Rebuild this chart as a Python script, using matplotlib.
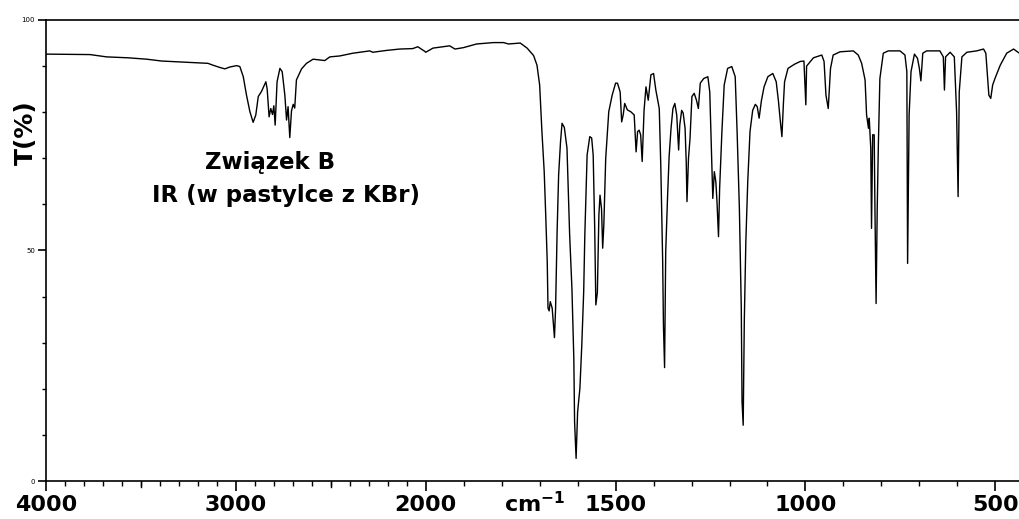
import matplotlib
matplotlib.use("Agg")
import matplotlib.pyplot as plt
import matplotlib.ticker as mticker
import matplotlib.transforms as mtransforms
import numpy as np

# IR spectrum (wavenumber in cm-1, transmittance in %)
wavenumber = [
    4000, 3768, 3681, 3568, 3470, 3391, 3242, 3147, 3121, 3084, 3058, 3032,
    2996, 2979, 2961, 2944, 2926, 2909, 2895, 2882, 2865, 2842, 2835, 2825,
    2816, 2807, 2800, 2793, 2783, 2768, 2756, 2742, 2733, 2725, 2716, 2707,
    2698, 2690, 2681, 2654, 2628, 2593, 2532, 2505, 2453, 2383, 2295, 2279,
    2207, 2137, 2068, 2042, 2005, 2000,
    1981, 1937, 1923, 1901, 1866, 1822, 1795, 1782, 1751, 1733, 1716, 1707,
    1700, 1694, 1688, 1684, 1680, 1678, 1675, 1672, 1667, 1661, 1658, 1654,
    1650, 1645, 1641, 1635, 1628, 1621, 1615, 1610, 1608, 1604, 1600, 1594,
    1589, 1584, 1581, 1575, 1568, 1563, 1559, 1555, 1552, 1548, 1544, 1541,
    1537, 1534, 1531, 1526, 1518, 1509, 1500,
    1495, 1488, 1484, 1480, 1476, 1469, 1460, 1451, 1446, 1442, 1438, 1434,
    1430, 1425, 1420, 1414, 1407, 1400, 1394, 1390, 1385, 1381, 1376, 1374,
    1371, 1368, 1363, 1359, 1354, 1349, 1344, 1339, 1334, 1331, 1326, 1322,
    1317, 1314, 1312, 1308, 1304, 1299, 1293, 1287, 1282, 1277, 1268, 1257,
    1252, 1249, 1244, 1240, 1236, 1233, 1229, 1226, 1220, 1214, 1205, 1194,
    1185, 1180, 1174, 1169, 1167, 1164, 1161, 1157, 1152, 1146, 1139, 1132,
    1127, 1122, 1116, 1109, 1099, 1086, 1077, 1071, 1066, 1062, 1058, 1055,
    1046, 1029, 1014, 1004, 999, 997,
    979, 957, 951, 946, 940, 934, 927, 909, 874, 861, 852, 843,
    839, 834, 832, 828, 826, 823, 819, 817, 814, 811, 808, 804,
    795, 782, 751, 738, 733, 731, 727, 722, 713, 705, 700, 696,
    691, 681, 646, 637, 634, 631, 619, 608, 602, 598, 595, 588,
    575, 549, 531, 525, 521, 517, 512, 507, 501, 487, 470, 452,
    435,
]
transmittance = [
    92.6, 92.5, 92.0, 91.8, 91.5, 91.1, 90.8, 90.6, 90.2, 89.7, 89.4, 89.8,
    90.1, 89.9, 87.7, 83.7, 80.1, 77.8, 79.4, 83.4, 84.5, 86.6, 85.0, 79.0,
    80.8, 79.5, 81.4, 77.2, 86.6, 89.5, 88.8, 83.7, 78.3, 81.2, 74.5, 80.3,
    81.7, 80.9, 87.0, 89.4, 90.6, 91.5, 91.2, 92.0, 92.2, 92.8, 93.3, 93.0,
    93.4, 93.7, 93.8, 94.2, 93.2, 93.0,
    93.9, 94.4, 93.7, 94.0, 94.8, 95.1, 95.1, 94.8, 95.0, 93.9, 92.3, 90.2,
    85.9, 75.8, 67.1, 57.7, 47.6, 37.5, 36.9, 38.9, 37.5, 31.1, 37.5, 54.1,
    66.4, 73.6, 77.6, 76.7, 72.2, 53.4, 41.8, 26.6, 12.9, 4.9, 15.0, 20.1,
    29.5, 41.1, 53.4, 70.7, 74.7, 74.4, 70.7, 54.8, 38.2, 40.9, 57.7, 62.0,
    59.0, 50.5, 55.5, 70.0, 80.1, 83.7, 86.3,
    86.3, 84.4, 77.9, 79.4, 81.9, 80.5, 80.1, 79.4, 71.4, 75.8, 76.1, 75.1,
    69.3, 80.4, 85.5, 82.6, 88.1, 88.4, 84.8, 83.0, 80.8, 68.5, 47.6, 33.8,
    24.6, 49.7, 62.0, 70.4, 76.5, 80.8, 81.9, 79.4, 71.8, 77.2, 80.4, 79.8,
    76.5, 69.3, 60.6, 70.0, 74.3, 83.4, 84.1, 82.6, 80.8, 86.3, 87.3, 87.7,
    84.4, 75.8, 61.3, 67.1, 64.9, 60.6, 53.0, 63.5, 75.8, 85.9, 89.5, 89.9,
    87.7, 75.8, 59.1, 37.5, 17.2, 12.1, 34.9, 51.9, 64.9, 75.8, 80.4, 81.7,
    81.2, 78.7, 82.5, 85.5, 87.7, 88.4, 86.6, 82.3, 77.9, 74.7, 82.0, 86.6,
    89.5, 90.4, 91.0, 91.1, 81.6, 90.0,
    91.8, 92.4, 91.0, 83.7, 80.8, 89.5, 92.4, 93.1, 93.3, 92.4, 90.6, 87.0,
    79.4, 76.5, 78.7, 72.1, 54.8, 75.1, 75.1, 59.1, 38.5, 59.1, 72.9, 87.3,
    92.8, 93.3, 93.3, 92.4, 88.8, 47.2, 79.4, 88.8, 92.6, 91.7, 89.5, 86.8,
    92.8, 93.3, 93.3, 92.0, 84.8, 92.0, 93.0, 92.0, 80.1, 61.7, 84.4, 92.0,
    93.0, 93.3, 93.7, 92.8, 88.1, 83.7, 83.0, 85.9, 87.3, 90.2, 92.8, 93.7,
    92.7,
]

x_labelled = [4000, 3000, 2000, 1500, 1000, 500]
x_half = [3500, 2500]
y_labelled = [0, 50, 100]
title_lines = ["Związek B", "IR (w pastylce z KBr)"]


def forward(x):
    # the chart doubles its scale below 2000 cm-1
    x = np.asarray(x, dtype=float)
    return np.where(x >= 2000, x, 2 * x - 2000)


def inverse(u):
    u = np.asarray(u, dtype=float)
    return np.where(u >= 2000, u, (u + 2000) / 2)


fig = plt.figure(figsize=(10.2, 5.19), dpi=100)
ax = fig.add_axes([46 / 1020, 38 / 519, 974 / 1020, 461 / 519])
ax.set_xscale("function", functions=(forward, inverse))
ax.plot(wavenumber, transmittance, color="black", linewidth=1.0)
ax.set_xlim(4000, 435)
ax.set_ylim(0, 100)

ax.spines["right"].set_visible(False)
for side in ("left", "bottom", "top"):
    ax.spines[side].set_linewidth(1.2)

ax.xaxis.set_major_locator(mticker.FixedLocator(x_labelled))
ax.xaxis.set_major_formatter(mticker.FixedFormatter([str(v) for v in x_labelled]))
ax.xaxis.set_minor_locator(mticker.FixedLocator(np.arange(500, 4001, 100)))
ax.yaxis.set_major_locator(mticker.FixedLocator(y_labelled))
ax.yaxis.set_minor_locator(mticker.MultipleLocator(10))

ax.tick_params(axis="x", which="major", direction="out", length=7, width=1.2, pad=3)
ax.tick_params(axis="x", which="minor", direction="out", length=3.5, width=1.0)
ax.tick_params(axis="y", which="major", direction="out", length=6, width=1.2,
               pad=2, labelsize=5)
ax.tick_params(axis="y", which="minor", direction="out", length=3, width=1.0)
for lbl in ax.get_xticklabels():
    lbl.set_fontsize(16)
    lbl.set_fontweight("bold")

# slightly longer ticks at the half-thousand marks above 2000
trans = mtransforms.blended_transform_factory(ax.transData, ax.transAxes)
for xv in x_half:
    ax.plot([xv, xv], [0, -0.012], transform=trans, color="black",
            linewidth=1.0, clip_on=False)

ax.text(1713, -0.067, r"cm$^{\mathbf{-1}}$", transform=trans, fontsize=16,
        fontweight="bold", ha="center", va="baseline")

fig.text(26 / 1020, 1 - 133 / 519, "T(%)", rotation=90, fontsize=18,
         fontweight="bold", ha="center", va="center")
fig.text(270 / 1020, 1 - 162 / 519, title_lines[0], fontsize=16.5,
         fontweight="bold", ha="center", va="center")
fig.text(286 / 1020, 1 - 195.5 / 519, title_lines[1], fontsize=16.5,
         fontweight="bold", ha="center", va="center")

fig.savefig("out.png", dpi=100)
